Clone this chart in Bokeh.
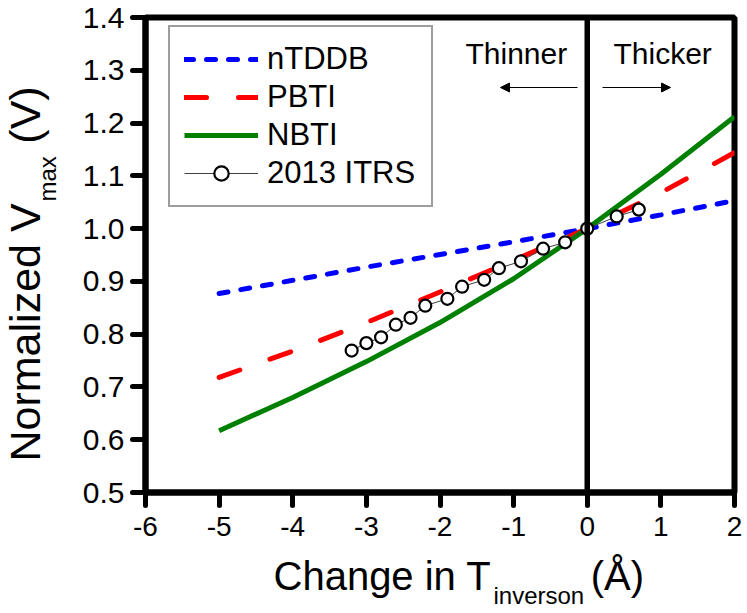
import math
from bokeh.plotting import figure
from bokeh.models import Range1d, FixedTicker, Span, Label, Arrow, NormalHead, Legend, LegendItem
from bokeh.embed import file_html
from bokeh.resources import INLINE

# ---------------- data ----------------
x_model = [-5, -4, -3, -2, -1, 0, 1, 2]
ntddb = [0.877, 0.902, 0.927, 0.951, 0.975, 1.000, 1.026, 1.053]
pbti = [0.718, 0.768, 0.822, 0.880, 0.940, 1.000, 1.068, 1.144]
nbti = [0.617, 0.680, 0.748, 0.822, 0.905, 1.000, 1.103, 1.212]
itrs_x = [-3.2, -3.0, -2.8, -2.6, -2.4, -2.2, -1.9, -1.7, -1.4, -1.2, -0.9, -0.6, -0.3, 0.0, 0.4, 0.7]
itrs_y = [0.769, 0.783, 0.794, 0.818, 0.831, 0.854, 0.867, 0.890, 0.903, 0.925, 0.938, 0.962, 0.974, 1.000, 1.023, 1.036]

x_ticks = [-6, -5, -4, -3, -2, -1, 0, 1, 2]
x_tick_labels = ["-6", "-5", "-4", "-3", "-2", "-1", "0", "1", "2"]
y_ticks = [0.5, 0.6, 0.7, 0.8, 0.9, 1.0, 1.1, 1.2, 1.3, 1.4]
y_tick_labels = ["0.5", "0.6", "0.7", "0.8", "0.9", "1.0", "1.1", "1.2", "1.3", "1.4"]

X0, X1 = -6, 2
Y0, Y1 = 0.5, 1.4

# ---------------- layout ----------------
W, H = 747, 613
FL, FR, FT, FB = 145, 734, 17, 492  # frame edges in pixels
FONT = "Liberation Sans"
NB = "\u00a0"


def px_x(px):
    return X0 + (px - FL) * (X1 - X0) / (FR - FL)


def px_y(py):
    return Y0 + (FB - py) * (Y1 - Y0) / (FB - FT)


p = figure(width=W, height=H, output_backend="svg", toolbar_location=None,
           x_range=Range1d(X0, X1), y_range=Range1d(Y0, Y1),
           min_border_left=FL, min_border_right=W - FR,
           min_border_top=FT, min_border_bottom=H - FB)
p.background_fill_color = "white"
p.border_fill_color = "white"
p.grid.visible = False
p.outline_line_color = "black"
p.outline_line_width = 6

for ax in (p.xaxis, p.yaxis):
    ax.axis_line_width = 6
    ax.major_tick_line_width = 5
    ax.major_tick_line_cap = "round"
    ax.major_tick_out = 13
    ax.major_tick_in = 0
    ax.minor_tick_out = 0
    ax.minor_tick_in = 0
    ax.major_label_text_font = FONT
    ax.major_label_text_color = "black"

p.xaxis.ticker = FixedTicker(ticks=x_ticks)
p.xaxis.major_label_overrides = dict(zip(x_ticks, x_tick_labels))
p.xaxis.major_label_text_font_size = "28px"
p.xaxis.major_label_standoff = 11
p.yaxis.ticker = FixedTicker(ticks=y_ticks)
p.yaxis.major_label_overrides = dict(zip(y_ticks, y_tick_labels))
p.yaxis.major_label_text_font_size = "30px"
p.yaxis.major_label_standoff = 8

# vertical line at 0
p.add_layout(Span(location=0, dimension="height", line_color="black", line_width=5.5))

r_n = p.line(x_model, ntddb, line_color="#0000ff", line_width=5, line_dash="9 13", line_cap="round")
r_p = p.line(x_model, pbti, line_color="#ff0000", line_width=5, line_dash="22 32", line_cap="round")
r_b = p.line(x_model, nbti, line_color="#008000", line_width=5)
r_il = p.line(itrs_x, itrs_y, line_color="#404040", line_width=1)
r_is = p.scatter(itrs_x, itrs_y, marker="circle", size=12, line_color="black", line_width=2.2,
                 fill_color="white")

legend = Legend(items=[
    LegendItem(label="nTDDB", renderers=[r_n]),
    LegendItem(label="PBTI", renderers=[r_p]),
    LegendItem(label="NBTI", renderers=[r_b]),
    LegendItem(label="2013 ITRS", renderers=[r_il, r_is]),
], location=(168 - FL, FB - 207), margin=0, padding=14, spacing=2,
    glyph_width=74, glyph_height=36, label_height=36, label_width=150, label_standoff=9,
    label_text_font=FONT, label_text_font_size="31px", label_text_color="black",
    border_line_color="#3c3c3c", border_line_width=2, background_fill_color="white",
    background_fill_alpha=1.0)
p.add_layout(legend, "center")

# Thinner / Thicker annotations
p.add_layout(Label(x=px_x(465), y=px_y(69), text="Thinner", text_font=FONT,
                   text_font_size="30px", text_color="black"))
p.add_layout(Label(x=px_x(613), y=px_y(69), text="Thicker", text_font=FONT,
                   text_font_size="30px", text_color="black"))
p.add_layout(Arrow(end=NormalHead(size=9, fill_color="black", line_color="black"),
                   x_start=px_x(577), y_start=px_y(87), x_end=px_x(500), y_end=px_y(87),
                   line_width=1.2, line_color="black"))
p.add_layout(Arrow(end=NormalHead(size=9, fill_color="black", line_color="black"),
                   x_start=px_x(602), y_start=px_y(87), x_end=px_x(670), y_end=px_y(87),
                   line_width=1.2, line_color="black"))

# axis titles (with subscripts) placed in the side panels so they are not clipped
p.add_layout(Label(x=px_x(273), y=px_y(597), text="Change in T" + NB * 9 + "(Å)", text_font=FONT,
                   text_font_size="40px", text_color="black"), "below")
p.add_layout(Label(x=px_x(493), y=px_y(608), text="inverson", text_font=FONT,
                   text_font_size="24px", text_color="black"), "below")

p.add_layout(Label(x=px_x(48), y=px_y(461), text="Normalized V" + NB * 5 + "(V)", text_font=FONT,
                   text_font_size="43px", text_color="black", angle=math.pi / 2), "left")
p.add_layout(Label(x=px_x(60), y=px_y(201), text="max", text_font=FONT,
                   text_font_size="24px", text_color="black", angle=math.pi / 2), "left")

open("out.html", "w").write(file_html(p, INLINE))
